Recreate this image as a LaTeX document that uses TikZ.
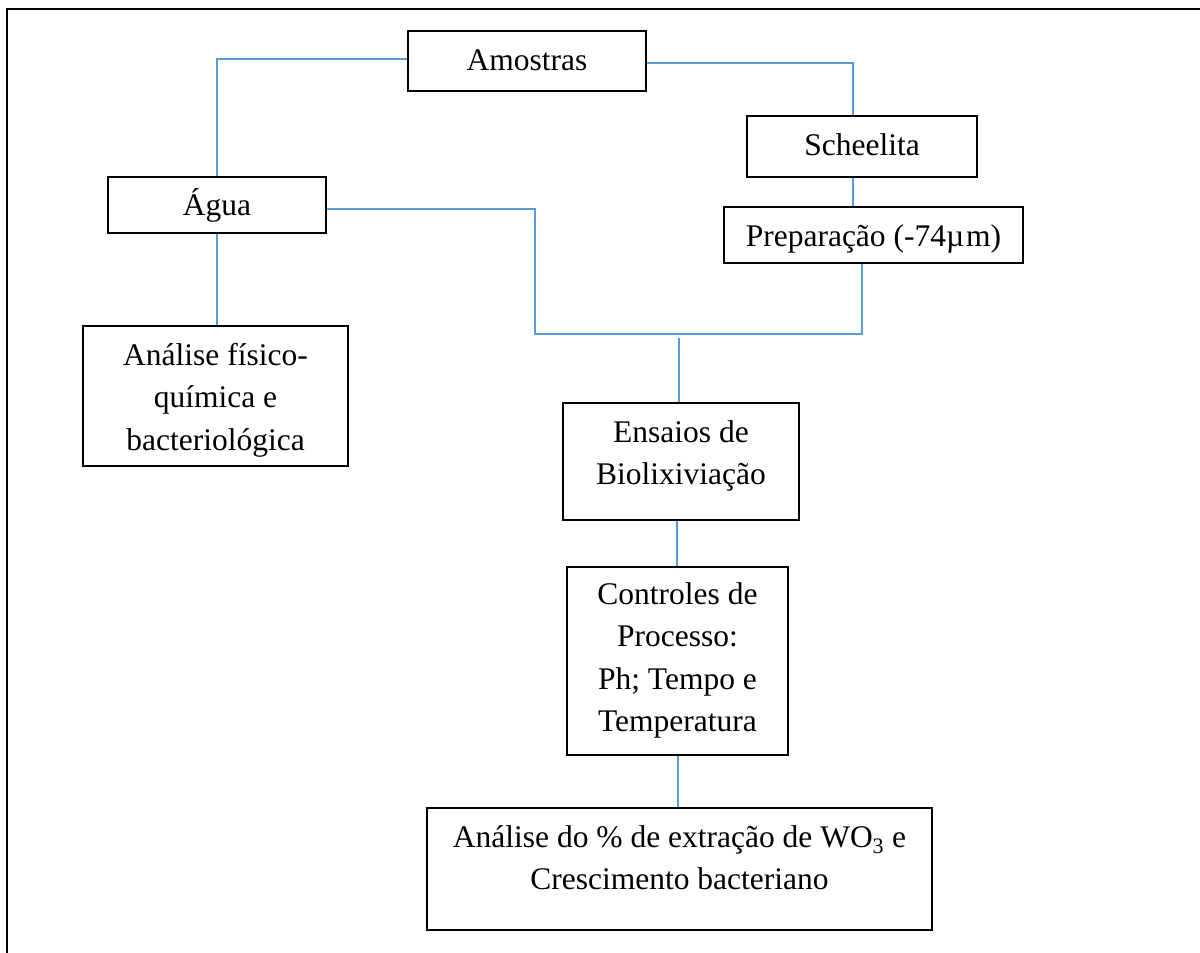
\documentclass[tikz,border=0pt]{standalone}
\usepackage{fontspec}
\setmainfont{Liberation Serif}
\definecolor{wordblue}{HTML}{5B9BD5}
\newcommand{\tstrut}{\rule{0pt}{30pt}}
\begin{document}
\begin{tikzpicture}[x=1pt,y=-1pt,
  box/.style={draw=black,line width=1.6pt,inner sep=0pt},
  txt/.style={anchor=north,inner sep=0pt,align=center,font=\fontsize{31.5}{42.5}\selectfont},
  link/.style={draw=wordblue,line width=1.3pt},
  frame/.style={draw=black,line width=2.6pt}]
\useasboundingbox (0,0) rectangle (1200,953);
\coordinate (fbl) at (7,953);
\coordinate (ftl) at (7,9);
\coordinate (ftr) at (1200,9);
\draw[frame] (fbl) -- (ftl) -- (ftr);

% boxes
\node[box,minimum width=238pt,minimum height=60pt] (amostras) at (527,61) {};
\node[box,minimum width=230pt,minimum height=61pt] (scheelita) at (862,146.5) {};
\node[box,minimum width=299pt,minimum height=56pt] (prep) at (873.5,235) {};
\node[box,minimum width=218pt,minimum height=56pt] (agua) at (217,205) {};
\node[box,minimum width=265pt,minimum height=140pt] (analise) at (215.5,396) {};
\node[box,minimum width=236pt,minimum height=117pt] (ensaios) at (681,461.5) {};
\node[box,minimum width=221pt,minimum height=188pt] (controles) at (677.5,661) {};
\node[box,minimum width=505pt,minimum height=122pt] (final) at (679.5,869) {};

% texts
\node[txt] (amostrasT) at ([yshift=-10pt]amostras.north) {\tstrut Amostras};
\node[txt] (scheelitaT) at ([yshift=-10pt]scheelita.north) {\tstrut Scheelita};
\node[txt] (prepT) at ([yshift=-10pt]prep.north) {\tstrut Preparação (-74µ\kern2pt m)};
\node[txt] (aguaT) at ([yshift=-9pt]agua.north) {\tstrut Água};
\node[txt] (analiseT) at ([yshift=-10pt]analise.north) {\tstrut Análise físico-\\química e\\bacteriológica};
\node[txt] (ensaiosT) at ([yshift=-10pt]ensaios.north) {\tstrut Ensaios de\\Biolixiviação};
\node[txt] (controlesT) at ([yshift=-8pt]controles.north) {\tstrut Controles de\\Processo:\\Ph; Tempo e\\Temperatura};
\node[txt] (finalT) at ([yshift=-10pt]final.north) {\tstrut Análise do \% de extração de WO\textsubscript{3} e\\Crescimento bacteriano};

% junction coordinates
\coordinate (jl) at (535,334);
\coordinate (jm) at (679,338);

% connectors
\draw[link] ([yshift=2pt]amostras.west) -| (agua.north);
\draw[link] ([yshift=-2pt]amostras.east) -| ([xshift=-9pt]scheelita.north);
\draw[link] ([xshift=-9pt]scheelita.south) -- ([xshift=-9pt]scheelita.south |- prep.north);
\draw[link] ([xshift=-11.5pt]prep.south) |- (jl) |- ([yshift=-4pt]agua.east);
\draw[link] (jm) -- (jm |- ensaios.north);
\draw[link] ([xshift=-4pt]ensaios.south) -- ([xshift=-4pt]ensaios.south |- controles.north);
\draw[link] ([xshift=0.5pt]controles.south) -- ([xshift=0.5pt]controles.south |- final.north);
\draw[link] (agua.south) -- (agua.south |- analise.north);
\end{tikzpicture}
\end{document}
